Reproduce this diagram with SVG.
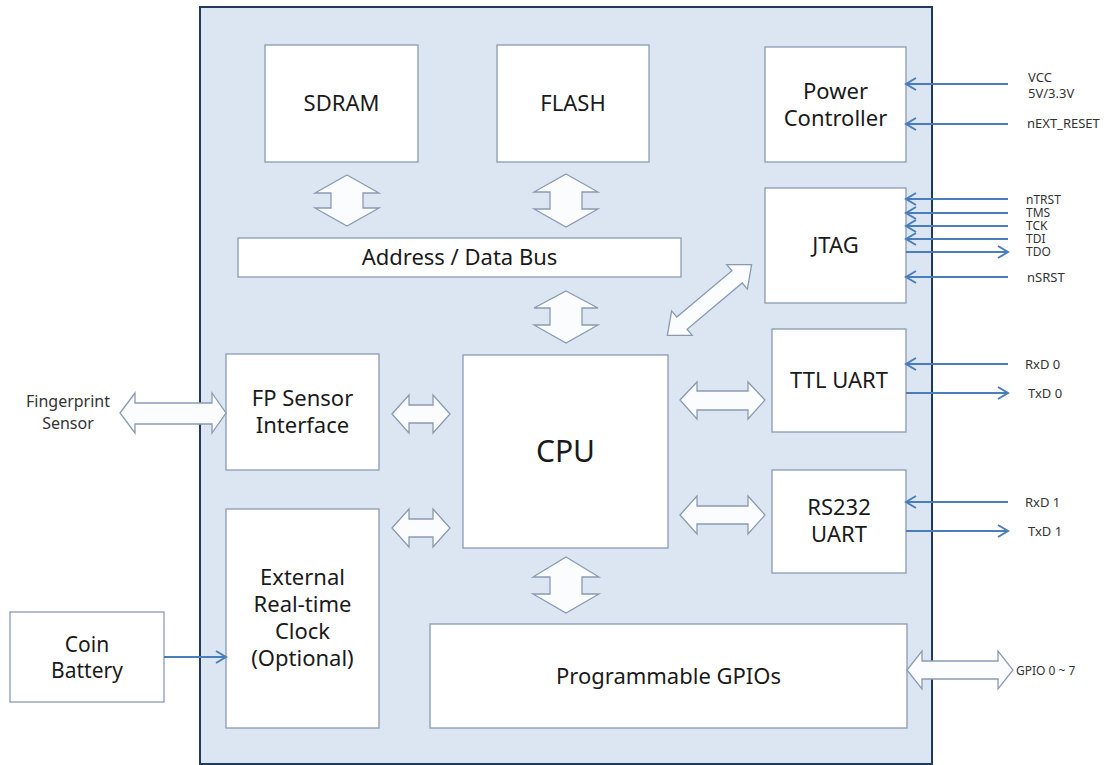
<svg xmlns="http://www.w3.org/2000/svg" width="1107" height="765" viewBox="0 0 1107 765">
<defs>
<marker id="ah" markerUnits="userSpaceOnUse" markerWidth="16" markerHeight="16" viewBox="-12 -8 16 16" refX="0" refY="0" orient="auto">
<path d="M-10,-6 L0,0 L-10,6" fill="none" stroke="#4a7ebb" stroke-width="2"/>
</marker>
</defs>
<style>
.box{fill:#ffffff;stroke:#8a9ab3;stroke-width:1.3}
.lbl{font-family:"Noto Sans","Open Sans",sans-serif;font-size:22px;fill:#1a1a1a;text-anchor:middle}
.sig{font-family:"Noto Sans","Open Sans",sans-serif;font-size:13px;fill:#333333}
.jt{font-size:12px}
.blk{fill:#fbfcfe;stroke:#8a9ab3;stroke-width:1.3;stroke-linejoin:miter}
.wire{stroke:#4a7ebb;stroke-width:2;fill:none;marker-end:url(#ah)}
</style>
<rect width="1107" height="765" fill="#ffffff"/>
<g id="board">
<rect x="200" y="7" width="732" height="757" fill="#dce6f2" stroke="#1f3a5c" stroke-width="2"/>
</g>
<g id="sdram"><rect class="box" x="265" y="45" width="153" height="117"/><text class="lbl" x="341.5" y="111">SDRAM</text></g>
<g id="flash"><rect class="box" x="497" y="45" width="152" height="117"/><text class="lbl" x="573" y="111">FLASH</text></g>
<g id="power"><rect class="box" x="765" y="47" width="141" height="115"/><text class="lbl" x="835.5" y="99">Power</text><text class="lbl" x="835.5" y="126">Controller</text></g>
<g id="bus"><rect class="box" x="238" y="238" width="443" height="39"/><text class="lbl" x="459.5" y="265">Address / Data Bus</text></g>
<g id="jtag"><rect class="box" x="765" y="188" width="141" height="115"/><text class="lbl" x="835.5" y="253">JTAG</text></g>
<g id="fp"><rect class="box" x="226" y="354" width="153" height="116"/><text class="lbl" x="302.5" y="406">FP Sensor</text><text class="lbl" x="302.5" y="433">Interface</text></g>
<g id="cpu"><rect class="box" x="463" y="355" width="205" height="193"/><text class="lbl" x="565.5" y="462" style="font-size:30px">CPU</text></g>
<g id="ttl"><rect class="box" x="772" y="329" width="134" height="103"/><text class="lbl" x="839" y="388">TTL UART</text></g>
<g id="rs232"><rect class="box" x="772" y="470" width="134" height="103"/><text class="lbl" x="839" y="515">RS232</text><text class="lbl" x="839" y="542">UART</text></g>
<g id="rtc"><rect class="box" x="226" y="509" width="153" height="219"/><text class="lbl" x="302.5" y="585">External</text><text class="lbl" x="302.5" y="612">Real-time</text><text class="lbl" x="302.5" y="639">Clock</text><text class="lbl" x="302.5" y="666">(Optional)</text></g>
<g id="gpio"><rect class="box" x="430" y="624" width="477" height="104"/><text class="lbl" x="668.5" y="684">Programmable GPIOs</text></g>
<g id="coin"><rect class="box" x="10" y="612" width="154" height="90"/><text class="lbl" x="87" y="652" style="font-size:21px">Coin</text><text class="lbl" x="87" y="678" style="font-size:21px">Battery</text></g>
<g id="fingerprint"><text class="sig" x="68" y="407" text-anchor="middle" style="font-size:16px">Fingerprint</text><text class="sig" x="68" y="429" text-anchor="middle" style="font-size:16px">Sensor</text></g>
<g id="connectors">
<path class="blk" d="M347,175 L379,193 L363,193 L363,208 L379,208 L347,226 L315,208 L331,208 L331,193 L315,193 Z"/>
<path class="blk" d="M566,174 L598,192 L582,192 L582,209 L598,209 L566,227 L534,209 L550,209 L550,192 L534,192 Z"/>
<path class="blk" d="M566,291 L598,308 L582,308 L582,325 L598,325 L566,343 L534,325 L550,325 L550,308 L534,308 Z"/>
<path class="blk" d="M566,557 L599,577 L582,577 L582,594 L599,594 L566,613 L533,594 L550,594 L550,577 L533,577 Z"/>
<path class="blk" d="M120,413 L135,393 L135,403 L212,403 L212,393 L226,413 L212,433 L212,424 L135,424 L135,433 Z"/>
<path class="blk" d="M392,414 L409,395 L409,405 L433,405 L433,395 L450,414 L433,433 L433,423 L409,423 L409,433 Z"/>
<path class="blk" d="M392,528 L409,509 L409,519 L433,519 L433,509 L450,528 L433,547 L433,537 L409,537 L409,547 Z"/>
<path class="blk" d="M680,400 L697,382 L697,391 L748,391 L748,382 L765,400 L748,419 L748,410 L697,410 L697,419 Z"/>
<path class="blk" d="M680,515 L697,496 L697,506 L748,506 L748,496 L765,515 L748,534 L748,524 L697,524 L697,534 Z"/>
<path class="blk" d="M907,670 L922,651 L922,661 L998,661 L998,651 L1013,670 L998,689 L998,679 L922,679 L922,689 Z"/>
<path class="blk" transform="translate(709.5,300) rotate(-40)" d="M-55,0 L-36,-16 L-36,-8 L36,-8 L36,-16 L55,0 L36,16 L36,8 L-36,8 L-36,16 Z"/>
<line class="wire" x1="1008" y1="84" x2="906" y2="84"/>
<line class="wire" x1="1008" y1="124" x2="906" y2="124"/>
<line class="wire" x1="1008" y1="199" x2="906" y2="199"/>
<line class="wire" x1="1008" y1="213" x2="906" y2="213"/>
<line class="wire" x1="1008" y1="226" x2="906" y2="226"/>
<line class="wire" x1="1008" y1="239" x2="906" y2="239"/>
<line class="wire" x1="906" y1="252" x2="1008" y2="252"/>
<line class="wire" x1="1008" y1="277" x2="906" y2="277"/>
<line class="wire" x1="1008" y1="364" x2="906" y2="364"/>
<line class="wire" x1="906" y1="393" x2="1008" y2="393"/>
<line class="wire" x1="1008" y1="502" x2="906" y2="502"/>
<line class="wire" x1="906" y1="531" x2="1008" y2="531"/>
<line class="wire" x1="164" y1="657" x2="226" y2="657"/>
</g>
<g id="signal-labels">
<text class="sig" x="1028" y="82">VCC</text>
<text class="sig" x="1028" y="98">5V/3.3V</text>
<text class="sig" x="1027" y="128">nEXT_RESET</text>
<text class="sig jt" x="1026" y="204">nTRST</text>
<text class="sig jt" x="1026" y="217">TMS</text>
<text class="sig jt" x="1026" y="230">TCK</text>
<text class="sig jt" x="1026" y="243">TDI</text>
<text class="sig jt" x="1026" y="256">TDO</text>
<text class="sig" x="1027" y="282">nSRST</text>
<text class="sig" x="1025" y="369">RxD 0</text>
<text class="sig" x="1028" y="398">TxD 0</text>
<text class="sig" x="1025" y="507">RxD 1</text>
<text class="sig" x="1028" y="536">TxD 1</text>
<text class="sig" x="1016" y="675" style="font-size:12px">GPIO 0 ~ 7</text>
</g>
</svg>
